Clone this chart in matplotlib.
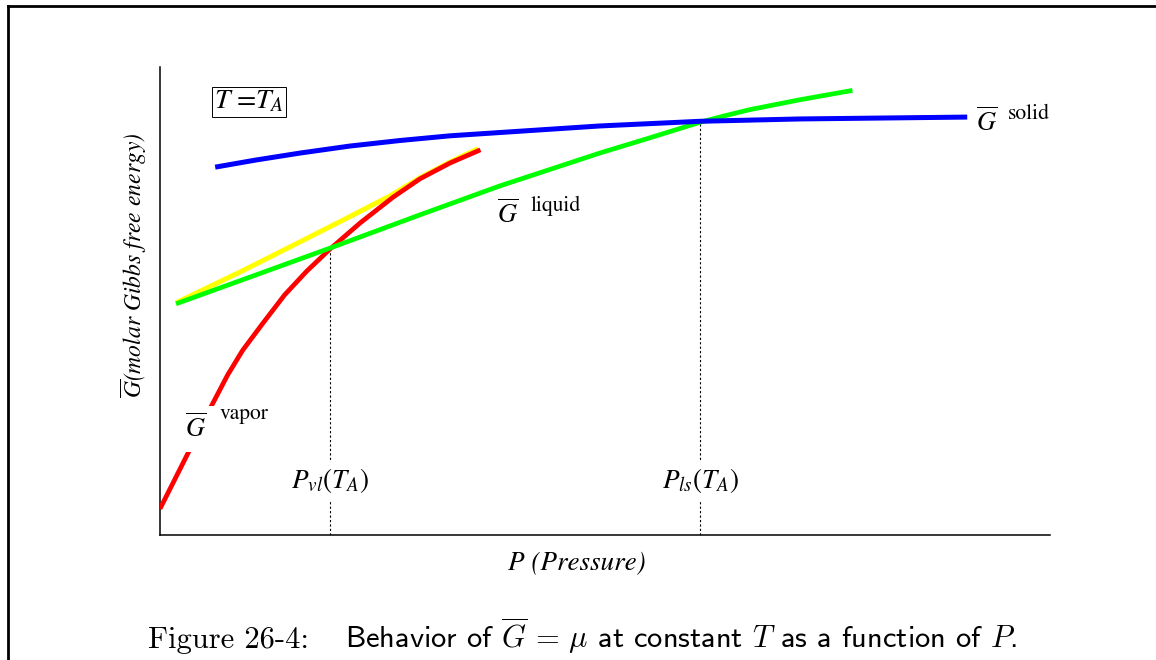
import matplotlib
matplotlib.use("Agg")
import matplotlib.pyplot as plt
from matplotlib.lines import Line2D

plt.rcParams["mathtext.fontset"] = "stix"
plt.rcParams["font.family"] = ["STIXGeneral", "DejaVu Sans"]

# curves (P and G in arbitrary units, axes run 0..10)
solid_p = [0.62, 1.07, 1.57, 2.13, 2.70, 3.26, 3.82, 4.94, 6.07, 7.19, 9.07]
solid_g = [7.86, 8.01, 8.16, 8.31, 8.43, 8.53, 8.60, 8.74, 8.84, 8.89, 8.93]

liquid_p = [0.18, 1.01, 1.91, 2.92, 3.82, 4.94, 5.51, 6.07, 6.35, 6.63, 7.19, 7.78]
liquid_g = [4.94, 5.51, 6.13, 6.84, 7.46, 8.16, 8.49, 8.82, 8.96, 9.09, 9.30, 9.50]

vapor_p = [0.00, 0.18, 0.36, 0.49, 0.62, 0.76, 0.93, 1.15, 1.40, 1.65,
           1.91, 2.25, 2.62, 2.92, 3.26, 3.60]
vapor_g = [0.56, 1.24, 1.92, 2.44, 2.91, 3.42, 3.95, 4.51, 5.13, 5.64,
           6.11, 6.67, 7.22, 7.61, 7.95, 8.23]

bridge_p = [0.18, 0.90, 1.57, 2.13, 2.58, 2.92, 3.26, 3.57]
bridge_g = [4.96, 5.62, 6.26, 6.80, 7.24, 7.63, 7.97, 8.25]

# transition pressures and the G value where the curves cross
cross_p = [1.91, 6.07]
cross_g = [6.12, 8.85]
cross_labels = [r"$P_{vl}(T_A)$", r"$P_{ls}(T_A)$"]

fig = plt.figure(figsize=(11.56, 6.6), dpi=100)
ax = fig.add_axes([160 / 1156, 1 - 535 / 660, 890 / 1156, 468 / 660])

ax.plot(bridge_p, bridge_g, color="#ffff00", lw=3.6, solid_capstyle="butt", zorder=2)
ax.plot(vapor_p, vapor_g, color="#ff0000", lw=3.4, solid_capstyle="butt", zorder=3)
ax.plot(liquid_p, liquid_g, color="#00ff00", lw=3.4, solid_capstyle="butt", zorder=4)
ax.plot(solid_p, solid_g, color="#0000ff", lw=3.6, solid_capstyle="butt", zorder=5)

ax.vlines(cross_p, 0, cross_g, colors="black", lw=0.8, linestyles=(0, (2, 2)), zorder=1)
for p, lab in zip(cross_p, cross_labels):
    ax.text(p, 1.0, lab, fontsize=19.5, ha="center", va="baseline", zorder=6,
            bbox=dict(facecolor="white", edgecolor="none", pad=4))

ax.text(1.0, 9.26, r"$T$ =$T_A$", fontsize=20, ha="center", va="center",
        bbox=dict(boxstyle="square,pad=0.08", facecolor="white", edgecolor="black", lw=0.7))

# curve names
ax.text(9.17, 8.63, r"$\overline{G}$", fontsize=19, ha="left", va="baseline")
ax.text(9.53, 8.89, "solid", fontsize=15.5, ha="left", va="baseline")
ax.text(3.79, 6.67, r"$\overline{G}$", fontsize=19, ha="left", va="baseline")
ax.text(4.16, 6.92, "liquid", fontsize=15.5, ha="left", va="baseline")
ax.text(0.28, 2.09, r"$\overline{G}$", fontsize=19, ha="left", va="baseline", zorder=6,
        bbox=dict(facecolor="white", edgecolor="none", pad=6))
ax.text(0.67, 2.48, "vapor", fontsize=15.5, ha="left", va="baseline", zorder=6)

ax.set_xlim(0, 10)
ax.set_ylim(0, 10)
ax.set_xticks([])
ax.set_yticks([])
ax.spines["top"].set_visible(False)
ax.spines["right"].set_visible(False)
ax.spines["left"].set_linewidth(1.1)
ax.spines["bottom"].set_linewidth(1.1)

fig.text(577 / 1156, 1 - 570 / 660, "P (Pressure)", fontsize=19.5, style="italic",
         ha="center", va="baseline")
fig.text(134 / 1156, 1 - 265 / 660, r"$\overline{G}$(molar Gibbs free energy)", fontsize=17,
         style="italic", rotation=90, ha="center", va="center")

# caption
fig.text(148 / 1156, 1 - 648 / 660, "Figure 26-4:", fontsize=22, family="cmr10",
         ha="left", va="baseline")
fig.text(345 / 1156, 1 - 648 / 660,
         r"Behavior of $\overline{G}\, = \,\mu$ at constant $T$ as a function of $P$.",
         fontsize=22, family="cmss10", math_fontfamily="cm", ha="left", va="baseline")

# page frame
fig.add_artist(Line2D([8 / 1156, 1], [1 - 5.5 / 660, 1 - 5.5 / 660], color="black", lw=2))
fig.add_artist(Line2D([8 / 1156, 8 / 1156], [0, 1 - 5.5 / 660], color="black", lw=2))

fig.savefig("out.png", dpi=100)
